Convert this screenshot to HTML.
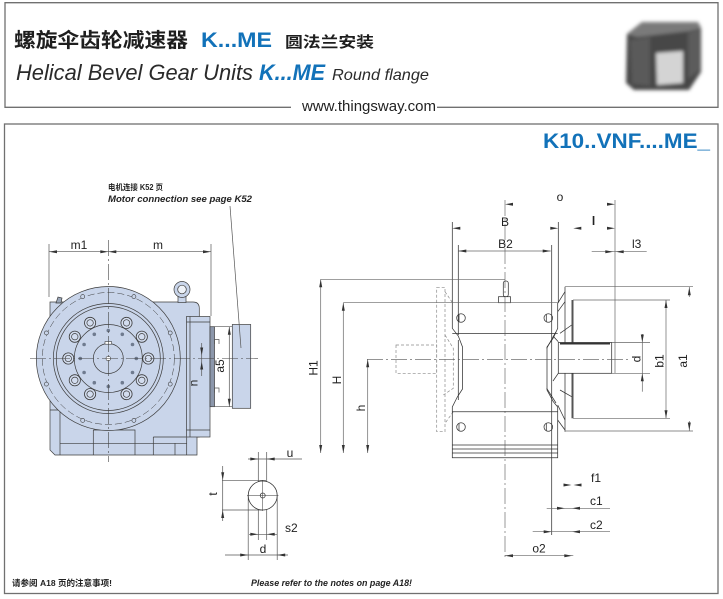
<!DOCTYPE html>
<html><head><meta charset="utf-8">
<style>html,body{margin:0;padding:0;background:#fff;width:723px;height:599px;overflow:hidden}svg{display:block}</style>
</head>
<body>
<svg xmlns="http://www.w3.org/2000/svg" width="723" height="599" viewBox="0 0 723 599">
<defs>
<filter id="bl" x="-15%" y="-15%" width="130%" height="130%"><feGaussianBlur stdDeviation="1.8"/></filter>
</defs>
<rect width="723" height="599" fill="#fff"/>

<!-- frames -->
<g fill="none" stroke="#707070" stroke-width="1.3">
<polyline points="291,107.3 5,107.3 5,2.7 718,2.7 718,107.3 437,107.3"/>
<rect x="4.5" y="124" width="713.5" height="469.5"/>
</g>

<!-- header text -->
<text x="14" y="47" font-family="'Liberation Sans','Noto Sans CJK SC',sans-serif" font-size="20" font-weight="bold" fill="#1e1e1e" textLength="174" lengthAdjust="spacingAndGlyphs">螺旋伞齿轮减速器</text>
<text x="201" y="47" font-family="'Liberation Sans',sans-serif" font-size="21" font-weight="bold" fill="#1272b9" textLength="71" lengthAdjust="spacingAndGlyphs">K...ME</text>
<text x="285" y="47" font-family="'Liberation Sans','Noto Sans CJK SC',sans-serif" font-size="15" font-weight="bold" fill="#1e1e1e" textLength="89" lengthAdjust="spacingAndGlyphs">圆法兰安装</text>
<text x="16" y="80" font-family="'Liberation Sans',sans-serif" font-size="22" font-style="italic" fill="#2a2a2a" textLength="237" lengthAdjust="spacingAndGlyphs">Helical Bevel Gear Units</text>
<text x="259" y="80" font-family="'Liberation Sans',sans-serif" font-size="22" font-weight="bold" font-style="italic" fill="#1272b9" textLength="66" lengthAdjust="spacingAndGlyphs">K...ME</text>
<text x="332" y="80" font-family="'Liberation Sans',sans-serif" font-size="16" font-style="italic" fill="#2a2a2a" textLength="97" lengthAdjust="spacingAndGlyphs">Round flange</text>
<text x="302" y="111" font-family="'Liberation Sans',sans-serif" font-size="14.5" fill="#222" textLength="134" lengthAdjust="spacingAndGlyphs">www.thingsway.com</text>

<!-- header picture -->
<g filter="url(#bl)">
<polygon points="627,34 642,22 698,22 701,28 701,72 689,90 634,90 626,83" fill="#464646"/>
<polygon points="627,34 642,22 698,22 701,28 690,31 637,37" fill="#7a7a7a"/>
<polygon points="630,40 650,37 650,86 632,84" fill="#5a5a5a"/>
<polygon points="688,33 700,29 700,70 688,79" fill="#5c5c5c"/>
<polygon points="656,53 683,51 683,83 657,85" fill="#d4d4d4"/>
</g>

<text x="543" y="148" font-family="'Liberation Sans',sans-serif" font-size="21" font-weight="bold" fill="#1272b9" textLength="167" lengthAdjust="spacingAndGlyphs">K10..VNF....ME_</text>

<!-- motor connection note -->
<text x="108" y="190" font-family="'Liberation Sans','Noto Sans CJK SC',sans-serif" font-size="8" font-weight="bold" fill="#222" textLength="55" lengthAdjust="spacingAndGlyphs">电机连接 K52 页</text>
<text x="108" y="202" font-family="'Liberation Sans',sans-serif" font-size="9.5" font-weight="bold" font-style="italic" fill="#222" textLength="144" lengthAdjust="spacingAndGlyphs">Motor connection see page K52</text>

<!-- ============ LEFT VIEW ============ -->
<g stroke="#3c3c3c" stroke-width="0.7" fill="#c9d5ea">
<path d="M50,302 H193 Q199.3,302 199.3,308.3 V437 H197 V455 H55 L50,450 Z"/>
<path d="M56,303 l2,-6 l4,1 l-1,5 z" fill="#9aa6b8"/>
<rect x="178" y="295" width="8" height="7.5"/>
<circle cx="182" cy="289.5" r="8"/>
<circle cx="182" cy="289.5" r="4.3" fill="#eef2f8"/>
<rect x="186.5" y="316.5" width="23.5" height="120.5"/>
<path fill="none" d="M190,316.5 V437 M186.5,322 H210 M186.5,430 H210"/>
<rect x="210" y="326.7" width="4.5" height="80" fill="#8c97ab"/>
<rect x="232.3" y="324.5" width="18.4" height="83.8"/>
<path fill="none" d="M60,412 V455 M60,443.3 H187 M93.3,430 V455 M93.3,430 H135 V455 M153.3,437 V455 M153.3,437 H186 M175,443.3 V455 M186.7,437 V455 M50,410 H60"/>
<circle cx="108.3" cy="358.5" r="72"/>
<circle cx="108.3" cy="358.5" r="66" fill="none" stroke-dasharray="7,3" stroke-width="0.5"/>
<circle cx="108.3" cy="358.5" r="55" fill="none"/>
<circle cx="108.3" cy="358.5" r="52" fill="none"/>
<circle cx="108.3" cy="358.5" r="34" fill="none"/>
<circle cx="108.3" cy="358.5" r="15"/>
</g>
<g stroke="#3c3c3c" stroke-width="0.6" fill="#c9d5ea">
<circle cx="170.2" cy="384.1" r="2"/><circle cx="170.2" cy="332.9" r="2"/>
<circle cx="46.4" cy="384.1" r="2"/><circle cx="46.4" cy="332.9" r="2"/>
<circle cx="133.9" cy="420.4" r="2"/><circle cx="133.9" cy="296.6" r="2"/>
<circle cx="82.7" cy="420.4" r="2"/><circle cx="82.7" cy="296.6" r="2"/>
</g>
<g stroke="#3c3c3c" stroke-width="0.8" fill="#d3ddef">
<circle cx="126.5" cy="322.9" r="5.6"/><circle cx="90.1" cy="322.9" r="5.6"/>
<circle cx="141.8" cy="336.7" r="5.6"/><circle cx="74.8" cy="336.7" r="5.6"/>
<circle cx="148.3" cy="358.5" r="5.6"/><circle cx="68.3" cy="358.5" r="5.6"/>
<circle cx="141.8" cy="380.3" r="5.6"/><circle cx="74.8" cy="380.3" r="5.6"/>
<circle cx="126.5" cy="394.1" r="5.6"/><circle cx="90.1" cy="394.1" r="5.6"/>
</g>
<g stroke="#3c3c3c" stroke-width="0.7" fill="none">
<circle cx="126.5" cy="322.9" r="3.2"/><circle cx="90.1" cy="322.9" r="3.2"/>
<circle cx="141.8" cy="336.7" r="3.2"/><circle cx="74.8" cy="336.7" r="3.2"/>
<circle cx="148.3" cy="358.5" r="3.2"/><circle cx="68.3" cy="358.5" r="3.2"/>
<circle cx="141.8" cy="380.3" r="3.2"/><circle cx="74.8" cy="380.3" r="3.2"/>
<circle cx="126.5" cy="394.1" r="3.2"/><circle cx="90.1" cy="394.1" r="3.2"/>
</g>
<g fill="#6f7b8f">
<circle cx="136.3" cy="358.5" r="1.8"/><circle cx="80.3" cy="358.5" r="1.8"/>
<circle cx="108.3" cy="330.5" r="1.8"/><circle cx="108.3" cy="386.5" r="1.8"/>
<circle cx="132.5" cy="344.5" r="1.8"/><circle cx="132.5" cy="372.5" r="1.8"/>
<circle cx="84.1" cy="344.5" r="1.8"/><circle cx="84.1" cy="372.5" r="1.8"/>
<circle cx="122.3" cy="334.3" r="1.8"/><circle cx="122.3" cy="382.7" r="1.8"/>
<circle cx="94.3" cy="334.3" r="1.8"/><circle cx="94.3" cy="382.7" r="1.8"/>
</g>
<rect x="105" y="341.6" width="6.6" height="2.6" fill="#fff" stroke="#3c3c3c" stroke-width="0.6"/>
<circle cx="108.3" cy="358.5" r="2.3" fill="#fff" stroke="#3c3c3c" stroke-width="0.6"/>

<!-- left centerlines -->
<g stroke="#444" stroke-width="0.6" fill="none" stroke-dasharray="16,3,2,3">
<line x1="30" y1="358.5" x2="258" y2="358.5"/>
<line x1="108.3" y1="240" x2="108.3" y2="462"/>
</g>

<!-- left dimensions -->
<g stroke="#555" stroke-width="0.7" fill="none">
<line x1="49" y1="251.7" x2="211" y2="251.7"/>
<line x1="49" y1="244" x2="49" y2="297"/>
<line x1="211" y1="244" x2="211" y2="316"/>
<line x1="230" y1="206" x2="241" y2="348"/>
<line x1="229.3" y1="326.7" x2="229.3" y2="406.7"/>
<line x1="212" y1="326.7" x2="232" y2="326.7"/>
<line x1="212" y1="406.7" x2="232" y2="406.7"/>
<path d="M214.5,344 V339.5 H219 V344 M214.5,392.5 V388 H219 V392.5"/>
<line x1="201.7" y1="343" x2="201.7" y2="376"/>
<line x1="248" y1="459" x2="302" y2="459"/>
<line x1="258.3" y1="452" x2="258.3" y2="540"/>
<line x1="266.7" y1="452" x2="266.7" y2="540"/>
<line x1="222.7" y1="466" x2="222.7" y2="521"/>
<line x1="222" y1="480.3" x2="266" y2="480.3"/>
<line x1="222" y1="510" x2="262" y2="510"/>
<line x1="249" y1="534.3" x2="277" y2="534.3"/>
<line x1="248.2" y1="496" x2="248.2" y2="560"/>
<line x1="277.2" y1="496" x2="277.2" y2="560"/>
<line x1="225" y1="555" x2="288" y2="555"/>
</g>
<circle cx="262.7" cy="495.5" r="14.5" fill="#fff" stroke="#333" stroke-width="0.8"/>
<circle cx="262.7" cy="495.5" r="2.5" fill="none" stroke="#333" stroke-width="0.7"/>
<path d="M247,495.5 H278.5 M262.7,480 V511" stroke="#333" stroke-width="0.5"/>
<g fill="#333">
<polygon points="49,251.7 57,250.2 57,253.2"/>
<polygon points="108.3,251.7 100.3,250.2 100.3,253.2"/>
<polygon points="108.3,251.7 116.3,250.2 116.3,253.2"/>
<polygon points="211,251.7 203,250.2 203,253.2"/>
<polygon points="229.3,326.7 227.8,334.7 230.8,334.7"/>
<polygon points="229.3,406.7 227.8,398.7 230.8,398.7"/>
<polygon points="201.7,355.5 200.2,347.5 203.2,347.5"/>
<polygon points="201.7,361.5 200.2,369.5 203.2,369.5"/>
<polygon points="258.3,459 250.3,457.5 250.3,460.5"/>
<polygon points="266.7,459 274.7,457.5 274.7,460.5"/>
<polygon points="222.7,480.3 221.2,472.3 224.2,472.3"/>
<polygon points="222.7,510 221.2,518 224.2,518"/>
<polygon points="258.3,534.3 250.3,532.8 250.3,535.8"/>
<polygon points="266.7,534.3 274.7,532.8 274.7,535.8"/>
<polygon points="248.2,555 240.2,553.5 240.2,556.5"/>
<polygon points="277.2,555 285.2,553.5 285.2,556.5"/>
</g>
<g font-family="'Liberation Sans',sans-serif" font-size="12" fill="#222">
<text x="79" y="249" text-anchor="middle">m1</text>
<text x="158" y="249" text-anchor="middle">m</text>
<text transform="translate(223.8,366) rotate(-90)" text-anchor="middle">a5</text>
<text transform="translate(197.5,383) rotate(-90)" text-anchor="middle">n</text>
<text transform="translate(217,494) rotate(-90)" text-anchor="middle">t</text>
<text x="290" y="457" text-anchor="middle">u</text>
<text x="285" y="532">s2</text>
<text x="263" y="553" text-anchor="middle">d</text>
</g>

<!-- ============ RIGHT VIEW ============ -->
<g stroke="#8a8a8a" stroke-width="0.7" fill="none" stroke-dasharray="3,2">
<rect x="436.7" y="287.3" width="8.3" height="144.4"/>
<rect x="396" y="345" width="40.7" height="28.3"/>
<path d="M445,291.7 L452,302 M445,335 L453.3,348.3 V388.3 L443.3,395 M453.3,411.7 L445,423.3"/>
</g>

<g stroke="#333" stroke-width="0.75" fill="none">
<path d="M452.3,302.7 V328.3 L458.3,336 L462.5,347 V389 L457.3,397 L452.3,407 V457.7 H557.7 V407 L553.3,401.7 L547,390 V347 L553.3,338 L557.7,328.3 V302.7"/>
<line x1="452.3" y1="333.5" x2="557.7" y2="333.5"/>
<line x1="452.3" y1="411.7" x2="557.7" y2="411.7"/>
<line x1="452.3" y1="445" x2="557.7" y2="445"/>
<line x1="452.3" y1="449" x2="557.7" y2="449"/>
<line x1="452.3" y1="453" x2="557.7" y2="453"/>
<line x1="458.3" y1="340" x2="458.3" y2="400"/>
<line x1="551.7" y1="245" x2="551.7" y2="535"/>
<line x1="458.3" y1="245" x2="458.3" y2="335"/>
<line x1="452.3" y1="222" x2="452.3" y2="302.7"/>
<line x1="558.3" y1="222" x2="558.3" y2="302.7"/>
<path d="M557.7,303.3 L565,291.7 M557.7,311.7 L565,301.7 M557.7,405 L565,420 M557.7,420 L565,430 M556,331.7 L546.7,348.3 M546.7,388.3 L556,403 M560,333.3 L571.7,325 M560,390 L571.7,396.7 M553,336 L558.3,341.7 M553,381 L558.3,373.3"/>
<line x1="565" y1="286.7" x2="565" y2="431.7"/>
<rect x="503.3" y="281" width="5" height="15.7" rx="2.2" fill="#fff"/>
<rect x="498.5" y="296.7" width="12" height="6" fill="#fff"/>
<circle cx="461" cy="318" r="4.3"/><line x1="459" y1="314" x2="459" y2="322"/>
<circle cx="548.3" cy="318" r="4.3"/><line x1="546.3" y1="314" x2="546.3" y2="322"/>
<circle cx="461" cy="427" r="4.3"/><line x1="459" y1="423" x2="459" y2="431"/>
<circle cx="548.3" cy="427" r="4.3"/><line x1="546.3" y1="423" x2="546.3" y2="431"/>
</g>
<line x1="572.5" y1="300" x2="572.5" y2="418.3" stroke="#555" stroke-width="2"/>
<rect x="558.3" y="342.5" width="53.4" height="30.8" fill="#fff" stroke="#333" stroke-width="0.75"/>
<line x1="560" y1="343.5" x2="610" y2="343.5" stroke="#333" stroke-width="2"/>

<g stroke="#555" stroke-width="0.6" fill="none" stroke-dasharray="16,3,2,3">
<line x1="505" y1="200" x2="505" y2="559"/>
<line x1="367" y1="359.3" x2="630" y2="359.3"/>
</g>

<g stroke="#666" stroke-width="0.7" fill="none">
<line x1="320.7" y1="279.3" x2="505" y2="279.3"/>
<line x1="343.3" y1="302.7" x2="452.3" y2="302.7"/>
<line x1="452.3" y1="302.7" x2="557.7" y2="302.7"/>
<line x1="320.7" y1="279.3" x2="320.7" y2="453"/>
<line x1="343.3" y1="302.7" x2="343.3" y2="453"/>
<line x1="367.7" y1="359.3" x2="367.7" y2="453"/>
<line x1="615" y1="200" x2="615" y2="373.3"/>
<line x1="458.3" y1="251" x2="550.7" y2="251"/>
<line x1="591.7" y1="251.7" x2="646.7" y2="251.7"/>
<line x1="565" y1="286.7" x2="693" y2="286.7"/>
<line x1="565" y1="431" x2="693" y2="431"/>
<line x1="573" y1="300" x2="670" y2="300"/>
<line x1="573" y1="418.3" x2="670" y2="418.3"/>
<line x1="612" y1="342.5" x2="650" y2="342.5"/>
<line x1="612" y1="373.3" x2="650" y2="373.3"/>
<line x1="642.3" y1="334" x2="642.3" y2="391.7"/>
<line x1="666" y1="300" x2="666" y2="418.3"/>
<line x1="689.3" y1="286.7" x2="689.3" y2="297"/>
<line x1="689.3" y1="421" x2="689.3" y2="431"/>
<line x1="546.7" y1="508.3" x2="610" y2="508.3"/>
<line x1="532.7" y1="531.7" x2="610" y2="531.7"/>
<line x1="505" y1="555.7" x2="573.3" y2="555.7"/>
</g>
<g fill="#333">
<polygon points="505,204.3 513,202.8 513,205.8"/>
<polygon points="615,204.3 607,202.8 607,205.8"/>
<polygon points="452.3,228.3 460.3,226.8 460.3,229.8"/>
<polygon points="558.3,228.3 550.3,226.8 550.3,229.8"/>
<polygon points="573.3,228.3 581.3,226.8 581.3,229.8"/>
<polygon points="615,228.3 607,226.8 607,229.8"/>
<polygon points="613.3,251.7 605.3,250.2 605.3,253.2"/>
<polygon points="615.7,251.7 623.7,250.2 623.7,253.2"/>
<polygon points="458.3,251 466.3,249.5 466.3,252.5"/>
<polygon points="550.7,251 542.7,249.5 542.7,252.5"/>
<polygon points="320.7,279.3 319.2,287.3 322.2,287.3"/>
<polygon points="320.7,453 319.2,445 322.2,445"/>
<polygon points="343.3,302.7 341.8,310.7 344.8,310.7"/>
<polygon points="343.3,453 341.8,445 344.8,445"/>
<polygon points="367.7,359.3 366.2,367.3 369.2,367.3"/>
<polygon points="367.7,453 366.2,445 369.2,445"/>
<polygon points="642.3,342.5 640.8,334.5 643.8,334.5"/>
<polygon points="642.3,373.3 640.8,381.3 643.8,381.3"/>
<polygon points="666,300 664.5,308 667.5,308"/>
<polygon points="666,418.3 664.5,410.3 667.5,410.3"/>
<polygon points="689.3,287.3 687.8,295.3 690.8,295.3"/>
<polygon points="689.3,430.5 687.8,422.5 690.8,422.5"/>
<polygon points="571.5,485 563.5,483.5 563.5,486.5"/>
<polygon points="573.5,485 581.5,483.5 581.5,486.5"/>
<polygon points="565,508.3 557,506.8 557,509.8"/>
<polygon points="572,508.3 580,506.8 580,509.8"/>
<polygon points="551.7,531.7 543.7,530.2 543.7,533.2"/>
<polygon points="572,531.7 580,530.2 580,533.2"/>
<polygon points="505,555.7 513,554.2 513,557.2"/>
<polygon points="572.3,555.7 564.3,554.2 564.3,557.2"/>
</g>
<g font-family="'Liberation Sans',sans-serif" font-size="12" fill="#222">
<text transform="translate(317.5,368) rotate(-90)" text-anchor="middle">H1</text>
<text transform="translate(341,380) rotate(-90)" text-anchor="middle">H</text>
<text transform="translate(365,408) rotate(-90)" text-anchor="middle">h</text>
<text transform="translate(640.5,359) rotate(-90)" text-anchor="middle">d</text>
<text transform="translate(663.5,361) rotate(-90)" text-anchor="middle">b1</text>
<text transform="translate(687,361) rotate(-90)" text-anchor="middle">a1</text>
<text x="505" y="226" text-anchor="middle">B</text>
<text x="505.5" y="248" text-anchor="middle">B2</text>
<text x="560" y="201" text-anchor="middle">o</text>
<text x="593.5" y="225" text-anchor="middle" font-weight="bold">l</text>
<text x="636.7" y="248" text-anchor="middle">l3</text>
<text x="591" y="482">f1</text>
<text x="590" y="505">c1</text>
<text x="590" y="529">c2</text>
<text x="539" y="552.7" text-anchor="middle">o2</text>
</g>

<!-- footer notes -->
<text x="12" y="586" font-family="'Liberation Sans','Noto Sans CJK SC',sans-serif" font-size="8.5" font-weight="bold" fill="#222" textLength="100" lengthAdjust="spacingAndGlyphs">请参阅 A18 页的注意事项!</text>
<text x="251" y="586" font-family="'Liberation Sans',sans-serif" font-size="9" font-weight="bold" font-style="italic" fill="#222" textLength="161" lengthAdjust="spacingAndGlyphs">Please refer to the notes on page A18!</text>
</svg>
</body>
</html>
